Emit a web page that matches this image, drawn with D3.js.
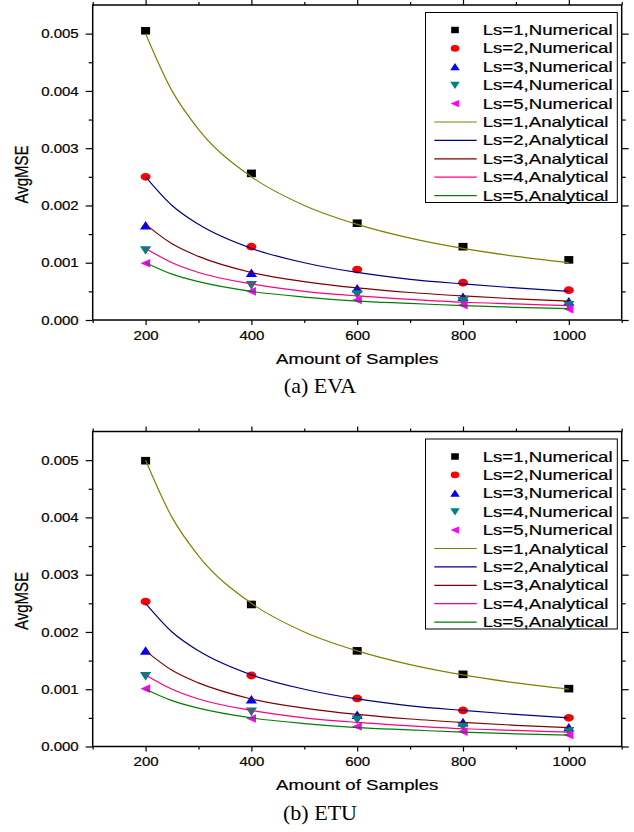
<!DOCTYPE html>
<html>
<head>
<meta charset="utf-8">
<script src="https://cdn.jsdelivr.net/npm/d3@7"></script>
<style>
  body { margin: 0; background: #fff; }
  svg { display: block; }
</style>
</head>
<body>
<div id="chart"></div>
<script>
// x values of the measured points
const samples = [200, 400, 600, 800, 1000];
const curveSamples = [200, 250, 300, 400, 500, 600, 700, 800, 900, 1000];

const seriesNames = ["Ls=1", "Ls=2", "Ls=3", "Ls=4", "Ls=5"];

// (a) EVA, numerical
const evaLs1 = [0.00505, 0.00256, 0.00169, 0.00128, 0.00105];
const evaLs2 = [0.00250, 0.00128, 0.00088, 0.00065, 0.00052];
const evaLs3 = [0.00165, 0.00082, 0.00055, 0.00040, 0.00032];
const evaLs4 = [0.00122, 0.00061, 0.00045, 0.00033, 0.00026];
const evaLs5 = [0.00099, 0.00050, 0.00035, 0.00026, 0.00019];

// (b) ETU, numerical
const etuLs1 = [0.00499, 0.00248, 0.00167, 0.00126, 0.00101];
const etuLs2 = [0.00253, 0.00124, 0.00084, 0.00063, 0.00050];
const etuLs3 = [0.00167, 0.00082, 0.00055, 0.00042, 0.00033];
const etuLs4 = [0.00123, 0.00061, 0.00047, 0.00035, 0.00027];
const etuLs5 = [0.00101, 0.00049, 0.00035, 0.00026, 0.00020];

// analytical curves (same in both panels)
const anaLs1 = [0.00500, 0.00400, 0.00333, 0.00250, 0.00200, 0.00167, 0.00143, 0.00125, 0.00111, 0.00100];
const anaLs2 = [0.00250, 0.00200, 0.00167, 0.00125, 0.00100, 0.00083, 0.00071, 0.00063, 0.00056, 0.00050];
const anaLs3 = [0.00167, 0.00133, 0.00111, 0.00083, 0.00067, 0.00056, 0.00048, 0.00042, 0.00037, 0.00033];
const anaLs4 = [0.00125, 0.00100, 0.00083, 0.00063, 0.00050, 0.00042, 0.00036, 0.00031, 0.00028, 0.00025];
const anaLs5 = [0.00100, 0.00080, 0.00067, 0.00050, 0.00040, 0.00033, 0.00029, 0.00025, 0.00022, 0.00020];

const xMajor = [200, 400, 600, 800, 1000];
const xMinor = [100, 300, 500, 700, 900, 1100];
const yMajor = [0, 0.001, 0.002, 0.003, 0.004, 0.005];
const yMinor = [0.0005, 0.0015, 0.0025, 0.0035, 0.0045];

const markerColors = ["#000000", "#ff0000", "#0000ff", "#008080", "#ff00ff"];
const lineColors = ["#808000", "#000080", "#800000", "#ff0080", "#008000"];
const markerShapes = ["square", "circle", "up", "down", "left"];

const width = 634, height = 832;
const S = 1.33;      // the figure's sans text is stretched sideways
const S_tick = 1.25;
const sans = "'Liberation Sans', Arial, sans-serif";
const serif = "'Liberation Serif', 'Times New Roman', serif";

const svg = d3.select("#chart").append("svg")
  .attr("width", width)
  .attr("height", height);

svg.append("rect").attr("width", width).attr("height", height).attr("fill", "#fff");

function markerPath(shape) {
  switch (shape) {
    case "square": return "M-4.5,-3.8H4.5V3.8H-4.5Z";
    case "circle": return "M-5,0A5,3.9 0 1,0 5,0A5,3.9 0 1,0 -5,0Z";
    case "up": return "M0,-4.6L5.6,4L-5.6,4Z";
    case "down": return "M0,4.6L5.6,-4L-5.6,-4Z";
    case "left": return "M-5.2,0L4.6,-4.3L4.6,4.3Z";
  }
}

function stretchBy(k) {
  return function(sel) {
    sel.each(function() {
      let t = d3.select(this);
      let x0 = +t.attr("x") || 0;
      t.attr("x", x0 / k).attr("transform", "scale(" + k + ",1)");
    });
  };
}

function build_panel(top, numData, caption) {
  let left = 92.7, right = 621.7, bottom = top + 315;

  let x = d3.scaleLinear().domain([100, 1100]).range([left, right]);
  let y = d3.scaleLinear().domain([0, 0.0055]).range([bottom, top]);

  let g = svg.append("g");

  // frame
  g.append("rect")
    .attr("x", left).attr("y", top)
    .attr("width", right - left).attr("height", bottom - top)
    .attr("fill", "none").attr("stroke", "#000").attr("stroke-width", 1.5);

  // left axis
  let yAxis = g.append("g")
    .attr("transform", "translate(" + left + ",0)")
    .call(d3.axisLeft(y).tickValues(yMajor).tickSize(7).tickPadding(7).tickFormat(d3.format(".3f")));
  yAxis.append("g").call(d3.axisLeft(y).tickValues(yMinor).tickSize(4).tickFormat(""));

  // bottom axis
  let xAxis = g.append("g")
    .attr("transform", "translate(0," + bottom + ")")
    .call(d3.axisBottom(x).tickValues(xMajor).tickSize(5).tickFormat(d3.format("d")));
  xAxis.append("g").call(d3.axisBottom(x).tickValues(xMinor).tickSize(3).tickFormat(""));

  // right and top axes, ticks only
  let rAxis = g.append("g")
    .attr("transform", "translate(" + right + ",0)")
    .call(d3.axisRight(y).tickValues(yMajor).tickSize(7).tickFormat(""));
  rAxis.append("g").call(d3.axisRight(y).tickValues(yMinor).tickSize(4).tickFormat(""));
  let tAxis = g.append("g")
    .attr("transform", "translate(0," + top + ")")
    .call(d3.axisTop(x).tickValues(xMajor).tickSize(5).tickFormat(""));
  tAxis.append("g").call(d3.axisTop(x).tickValues(xMinor).tickSize(3).tickFormat(""));

  g.selectAll(".domain").remove();
  g.selectAll(".tick line").attr("stroke", "#000").attr("stroke-width", 1.2);
  g.selectAll(".tick text")
    .attr("fill", "#000")
    .attr("stroke", "#000").attr("stroke-width", 0.2)
    .style("font-family", sans)
    .style("font-size", "12px");

  yAxis.selectAll(".tick text").attr("x", -14).attr("dy", "0.35em").call(stretchBy(S_tick));
  xAxis.selectAll(".tick text").attr("y", 20).attr("dy", 0).call(stretchBy(S_tick));

  // measured points
  numData.forEach(function(vals, i) {
    g.selectAll(".pt" + i)
      .data(vals)
      .enter().append("path")
      .attr("class", "pt" + i)
      .attr("d", markerPath(markerShapes[i]))
      .attr("transform", function(d, j) { return "translate(" + x(samples[j]) + "," + y(d) + ")"; })
      .attr("fill", markerColors[i]);
  });

  // analytical curves
  let line = d3.line()
    .x(function(d, j) { return x(curveSamples[j]); })
    .y(function(d) { return y(d); })
    .curve(d3.curveMonotoneX);

  [anaLs1, anaLs2, anaLs3, anaLs4, anaLs5].forEach(function(vals, i) {
    g.append("path")
      .attr("d", line(vals))
      .attr("fill", "none")
      .attr("stroke", lineColors[i])
      .attr("stroke-width", 1.2);
  });

  // legend
  let lx = 425.5, ly = top + 7.5, lw = 617.3 - 425.5, lh = 190, step = 18.4;
  let leg = g.append("g");
  leg.append("rect")
    .attr("x", lx).attr("y", ly).attr("width", lw).attr("height", lh)
    .attr("fill", "#fff").attr("stroke", "#000").attr("stroke-width", 1);

  let rows = [];
  seriesNames.forEach(function(n, i) { rows.push({ label: n + ",Numerical", kind: "m", i: i }); });
  seriesNames.forEach(function(n, i) { rows.push({ label: n + ",Analytical", kind: "l", i: i }); });

  let row = leg.selectAll(".row")
    .data(rows)
    .enter().append("g")
    .attr("transform", function(d, k) { return "translate(0," + (ly + 17.5 + k * step) + ")"; });

  row.filter(function(d) { return d.kind == "m"; })
    .append("path")
    .attr("d", function(d) { return markerPath(markerShapes[d.i]); })
    .attr("transform", "translate(455,0) scale(0.85)")
    .attr("fill", function(d) { return markerColors[d.i]; });

  row.filter(function(d) { return d.kind == "l"; })
    .append("line")
    .attr("x1", 434.3).attr("x2", 476.7)
    .attr("stroke", function(d) { return lineColors[d.i]; })
    .attr("stroke-width", 1.2);

  row.append("text")
    .attr("x", 482.7)
    .attr("dy", "0.36em")
    .attr("stroke", "#000").attr("stroke-width", 0.2)
    .style("font-family", sans)
    .style("font-size", "14px")
    .text(function(d) { return d.label; })
    .call(stretchBy(S));

  // axis titles
  g.append("text")
    .attr("x", (left + right) / 2)
    .attr("y", bottom + 44)
    .attr("text-anchor", "middle")
    .attr("stroke", "#000").attr("stroke-width", 0.2)
    .style("font-family", sans)
    .style("font-size", "14px")
    .text("Amount of Samples")
    .call(stretchBy(S));

  g.append("text")
    .attr("transform", "translate(28," + ((top + bottom) / 2 + 12) + ") scale(1.25,1) rotate(-90)")
    .attr("text-anchor", "middle")
    .attr("stroke", "#000").attr("stroke-width", 0.2)
    .style("font-family", sans)
    .style("font-size", "15px")
    .text("AvgMSE");

  // caption
  g.append("text")
    .attr("transform", "translate(320," + (bottom + 73) + ") scale(1.05,1)")
    .attr("text-anchor", "middle")
    .style("font-family", serif)
    .style("font-size", "21px")
    .text(caption);
}

build_panel(5, [evaLs1, evaLs2, evaLs3, evaLs4, evaLs5], "(a) EVA");
build_panel(431.5, [etuLs1, etuLs2, etuLs3, etuLs4, etuLs5], "(b) ETU");
</script>
</body>
</html>
